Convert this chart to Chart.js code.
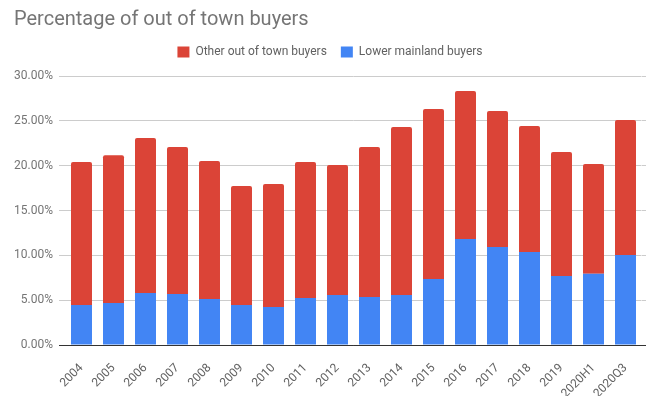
<!DOCTYPE html>
<html>
<head>
<meta charset="utf-8">
<script src="https://cdn.jsdelivr.net/npm/chart.js@4"></script>
<style>
  html, body { margin: 0; padding: 0; background: #fff; }
  #wrap { width: 656px; height: 396px; }
</style>
</head>
<body>
<div id="wrap"><canvas id="chart" width="656" height="396"></canvas></div>
<script>
const categories = ['2004', '2005', '2006', '2007', '2008', '2009', '2010', '2011', '2012',
  '2013', '2014', '2015', '2016', '2017', '2018', '2019', '2020H1', '2020Q3'];
const lowerMainland = [4.46, 4.68, 5.80, 5.69, 5.13, 4.46, 4.24, 5.24, 5.58,
  5.35, 5.58, 7.36, 11.82, 10.93, 10.37, 7.70, 7.95, 10.04];
const totalOutOfTown = [20.40, 21.15, 23.08, 22.08, 20.52, 17.73, 17.96, 20.40, 20.07,
  22.08, 24.31, 26.32, 28.33, 26.10, 24.42, 21.52, 20.19, 25.09];
const otherOutOfTown = totalOutOfTown.map((t, i) => +(t - lowerMainland[i]).toFixed(2));
const yTicks = [0, 5, 10, 15, 20, 25, 30];

const font = 'Roboto';
const gridColor = ctx => (ctx.tick && ctx.tick.value === 0 ? '#333333' : '#cccccc');

// push the plot area down a little below the legend
const legendSpacer = {
  id: 'legendSpacer',
  beforeInit(chart) {
    const fit = chart.legend.fit;
    chart.legend.fit = function () {
      fit.call(this);
      this.height += 8;
    };
  }
};

new Chart(document.getElementById('chart').getContext('2d'), {
  type: 'bar',
  data: {
    labels: categories,
    datasets: [
      {
        label: 'Lower mainland buyers',
        data: lowerMainland,
        backgroundColor: '#4285f4',
        borderRadius: 0,
        categoryPercentage: 0.656,
        barPercentage: 1
      },
      {
        label: 'Other out of town buyers',
        data: otherOutOfTown,
        backgroundColor: '#db4437',
        borderRadius: { topLeft: 2, topRight: 2, bottomLeft: 0, bottomRight: 0 },
        borderSkipped: false,
        categoryPercentage: 0.656,
        barPercentage: 1
      }
    ]
  },
  plugins: [legendSpacer],
  options: {
    responsive: false,
    animation: false,
    layout: { padding: { left: 14, right: 10, top: 0, bottom: 0 } },
    plugins: {
      title: {
        display: true,
        text: 'Percentage of out of town buyers',
        align: 'start',
        color: '#757575',
        font: { family: font, size: 20, weight: 'normal' },
        padding: { top: 8, bottom: 0 }
      },
      legend: {
        reverse: true,
        labels: {
          color: '#616161',
          font: { family: font, size: 12 },
          boxWidth: 12,
          boxHeight: 11,
          padding: 14
        }
      },
      tooltip: { enabled: false }
    },
    scales: {
      x: {
        stacked: true,
        grid: { display: false },
        border: { color: '#333333', width: 1 },
        afterFit: axis => { axis.height = 51; },
        ticks: {
          color: '#616161',
          font: { family: font, size: 12 },
          minRotation: 45,
          maxRotation: 45,
          padding: 8
        }
      },
      y: {
        stacked: true,
        min: 0,
        max: 30,
        afterBuildTicks: axis => { axis.ticks = yTicks.map(v => ({ value: v })); },
        afterFit: axis => { axis.width = 51.5; },
        grid: { color: gridColor, drawTicks: true, tickLength: 6.5 },
        border: { display: false },
        ticks: {
          color: '#757575',
          font: { family: font, size: 12 },
          padding: 6,
          callback: v => v.toFixed(2) + '%'
        }
      },
      y2: {
        position: 'right',
        min: 0,
        max: 30,
        afterBuildTicks: axis => { axis.ticks = yTicks.map(v => ({ value: v })); },
        afterFit: axis => { axis.width = 4.5; },
        grid: { color: gridColor, drawOnChartArea: false, drawTicks: true, tickLength: 4.5 },
        border: { display: false },
        ticks: { display: false }
      }
    }
  }
});
</script>
</body>
</html>
